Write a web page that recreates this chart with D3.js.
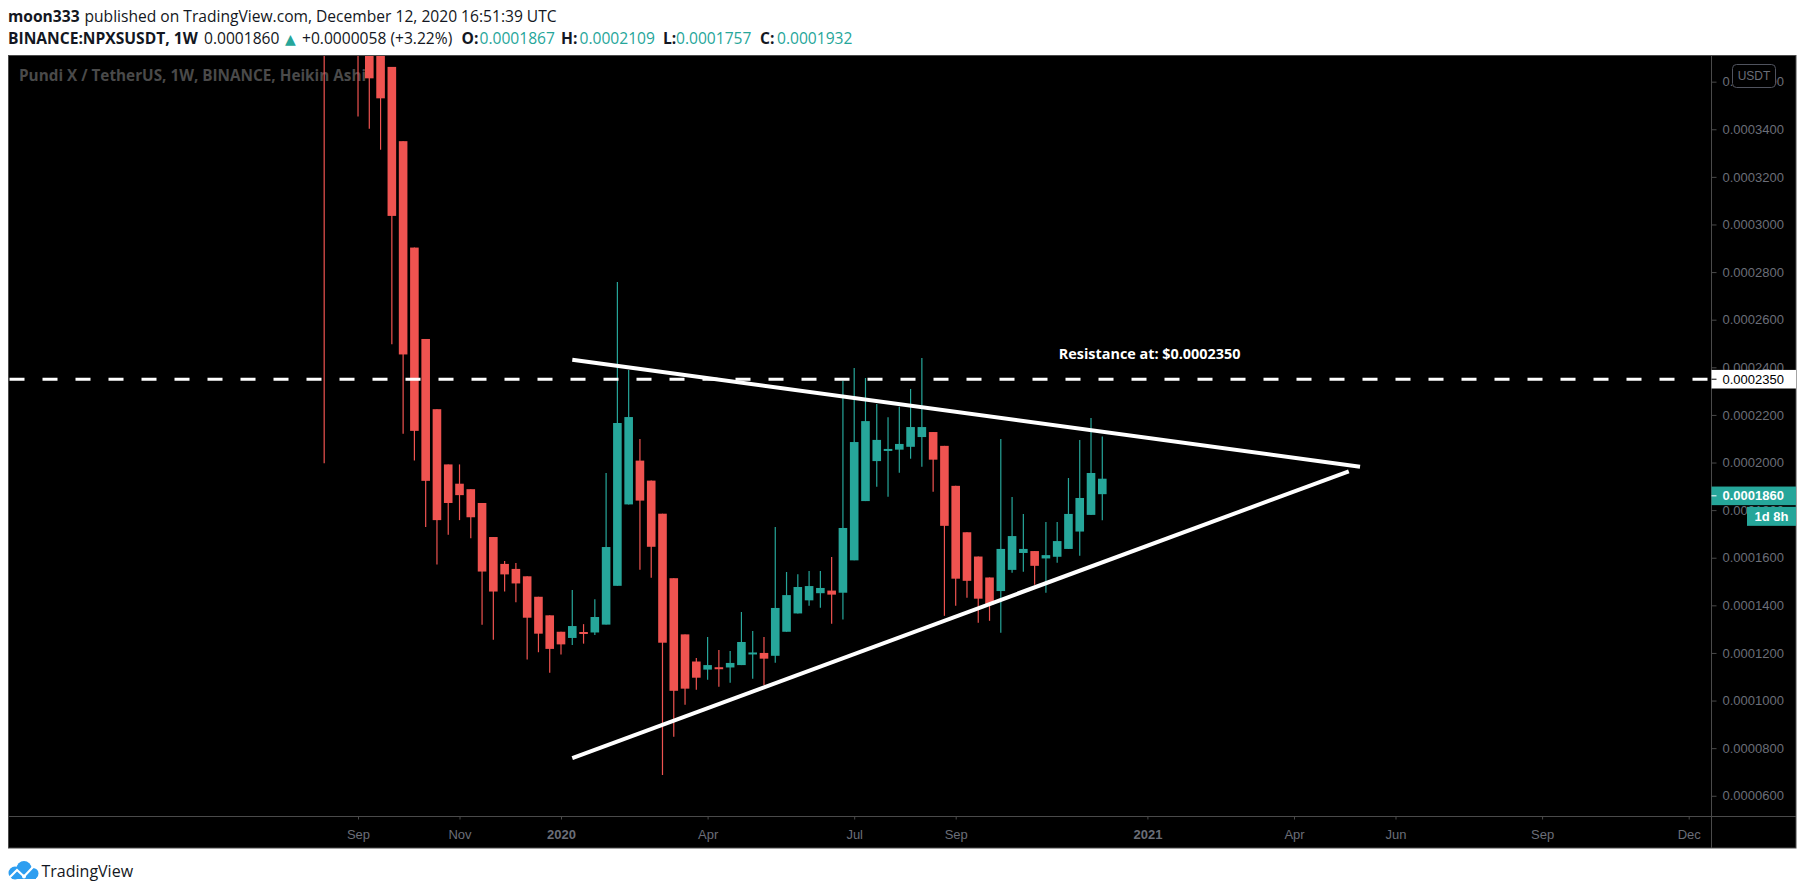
<!DOCTYPE html>
<html>
<head>
<meta charset="utf-8">
<script src="https://cdn.jsdelivr.net/npm/d3@7"></script>
<style>
  html, body { margin: 0; padding: 0; background: #fff; }
  svg { display: block; }
</style>
</head>
<body>
<svg id="chart" width="1805" height="895"></svg>
<script>
/* NPXS/USDT weekly Heikin Ashi candles with a symmetrical triangle. */

// weekly bars (bar start dates)
var weeks = [
  "2019-08-12","2019-08-19","2019-08-26","2019-09-02","2019-09-09","2019-09-16","2019-09-23",
  "2019-09-30","2019-10-07","2019-10-14","2019-10-21","2019-10-28","2019-11-04","2019-11-11",
  "2019-11-18","2019-11-25","2019-12-02","2019-12-09","2019-12-16","2019-12-23","2019-12-30",
  "2020-01-06","2020-01-13","2020-01-20","2020-01-27","2020-02-03","2020-02-10","2020-02-17",
  "2020-02-24","2020-03-02","2020-03-09","2020-03-16","2020-03-23","2020-03-30","2020-04-06",
  "2020-04-13","2020-04-20","2020-04-27","2020-05-04","2020-05-11","2020-05-18","2020-05-25",
  "2020-06-01","2020-06-08","2020-06-15","2020-06-22","2020-06-29","2020-07-06","2020-07-13",
  "2020-07-20","2020-07-27","2020-08-03","2020-08-10","2020-08-17","2020-08-24","2020-08-31",
  "2020-09-07","2020-09-14","2020-09-21","2020-09-28","2020-10-05","2020-10-12","2020-10-19",
  "2020-10-26","2020-11-02","2020-11-09","2020-11-16","2020-11-23","2020-11-30","2020-12-07"
];
var opens = [
  0.00052, 0.00047, 0.00044, 0.000415, 0.0003974, 0.0003794, 0.0003662,
  0.000335, 0.0002903, 0.0002519, 0.0002224, 0.0001992, 0.0001911, 0.0001888,
  0.000183, 0.0001687, 0.0001574, 0.0001553, 0.0001522, 0.0001436, 0.0001358,
  0.0001289, 0.0001263, 0.0001288, 0.0001286, 0.0001319, 0.0001482, 0.0001824,
  0.0002008, 0.0001924, 0.0001785, 0.0001514, 0.0001278, 0.0001164, 0.000113,
  0.000114, 0.0001139, 0.0001149, 0.0001198, 0.00012, 0.0001188, 0.0001289,
  0.0001366, 0.0001421, 0.0001451, 0.0001462, 0.0001453, 0.0001589, 0.0001838,
  0.0002006, 0.000205, 0.0002054, 0.0002066, 0.0002107, 0.0002128, 0.000207,
  0.0001902, 0.0001707, 0.0001605, 0.0001517, 0.000146, 0.0001549, 0.000162,
  0.0001628, 0.0001597, 0.0001604, 0.0001637, 0.000171, 0.000178, 0.0001867
];
var highs = [
  0.0006, 0.0005, 0.00046, 0.00043, 0.0003974, 0.0003794, 0.0003662,
  0.000335, 0.0002903, 0.0002519, 0.0002224, 0.0001992, 0.0001992, 0.0001888,
  0.000183, 0.0001687, 0.0001586, 0.0001578, 0.0001522, 0.0001436, 0.0001358,
  0.0001289, 0.0001464, 0.0001321, 0.0001426, 0.0001956, 0.0002758, 0.0002389,
  0.0002099, 0.0001924, 0.0001785, 0.0001514, 0.0001278, 0.0001179, 0.0001267,
  0.0001212, 0.0001208, 0.0001372, 0.0001292, 0.0001267, 0.0001729, 0.000154,
  0.0001531, 0.0001544, 0.0001544, 0.0001603, 0.0002344, 0.0002397, 0.0002355,
  0.0002246, 0.000219, 0.0002234, 0.0002309, 0.0002439, 0.0002128, 0.000207,
  0.0001902, 0.0001707, 0.0001605, 0.0001517, 0.0002099, 0.0001855, 0.0001784,
  0.0001628, 0.000175, 0.000175, 0.0001935, 0.0002095, 0.0002187, 0.0002109
];
var lows = [
  0.0001997, 0.00039, 0.000385, 0.0003454, 0.0003402, 0.0003314, 0.0002497,
  0.0002121, 0.0002008, 0.0001729, 0.0001572, 0.0001697, 0.0001758, 0.0001682,
  0.0001318, 0.0001255, 0.0001458, 0.0001413, 0.0001172, 0.0001203, 0.0001117,
  0.0001193, 0.0001233, 0.0001239, 0.0001275, 0.0001319, 0.0001482, 0.0001824,
  0.000155, 0.0001516, 0.0000687, 0.0000848, 0.0000982, 0.0001045, 0.0001087,
  0.0001058, 0.0001075, 0.0001149, 0.0001092, 0.0001065, 0.0001159, 0.0001289,
  0.0001366, 0.0001398, 0.000139, 0.0001323, 0.000134, 0.0001589, 0.0001838,
  0.0001898, 0.0001856, 0.0001957, 0.0002016, 0.0001982, 0.0001877, 0.0001356,
  0.0001398, 0.0001432, 0.0001327, 0.0001335, 0.0001285, 0.0001537, 0.0001541,
  0.0001487, 0.0001453, 0.0001579, 0.0001637, 0.0001608, 0.000178, 0.0001757
];
var closes = [
  0.00042, 0.00041, 0.00039, 0.00038, 0.0003614, 0.000353, 0.0003036,
  0.0002454, 0.0002133, 0.0001923, 0.0001758, 0.000183, 0.0001863, 0.000177,
  0.0001542, 0.0001458, 0.000153, 0.0001492, 0.0001348, 0.0001281, 0.0001217,
  0.0001236, 0.0001313, 0.0001284, 0.0001351, 0.0001645, 0.0002166, 0.0002191,
  0.000184, 0.0001646, 0.0001243, 0.0001041, 0.000105, 0.0001096, 0.0001149,
  0.0001138, 0.0001158, 0.0001246, 0.0001202, 0.0001176, 0.0001389, 0.0001443,
  0.0001477, 0.0001481, 0.0001473, 0.0001445, 0.0001725, 0.0002086, 0.0002174,
  0.0002095, 0.0002057, 0.0002078, 0.0002149, 0.0002149, 0.0002012, 0.0001734,
  0.0001512, 0.0001503, 0.0001428, 0.0001403, 0.0001637, 0.0001691, 0.0001637,
  0.0001566, 0.0001611, 0.000167, 0.0001784, 0.0001851, 0.0001956, 0.0001932
];

// drawings
var resistance = 0.000235;
var upperTrend = [["2020-01-13", 0.0002432], ["2021-05-16", 0.0001982]];
var lowerTrend = [["2020-01-13", 0.0000758], ["2021-05-09", 0.0001963]];
var resistanceNote = { date: "2020-11-10", value: 0.0002458, text: "Resistance at: $0.0002350" };

// axes
var yTicks = [0.00006, 0.00008, 0.0001, 0.00012, 0.00014, 0.00016, 0.00018,
              0.0002, 0.00022, 0.00024, 0.00026, 0.00028, 0.0003, 0.00032, 0.00034, 0.00036];
var xTickDates = ["2019-09-02","2019-11-04","2020-01-06","2020-04-06","2020-07-06","2020-09-07",
                  "2021-01-04","2021-04-05","2021-06-07","2021-09-06","2021-12-06"];
var xTickLabels = ["Sep","Nov","2020","Apr","Jul","Sep","2021","Apr","Jun","Sep","Dec"];

var lastPrice = 0.000186, countdown = "1d 8h";

// header strings: [text, bold, teal, x]
var titleParts = [
  ["moon333", true, false, 8],
  ["published on TradingView.com, December 12, 2020 16:51:39 UTC", false, false, 84.5]
];
var legendParts = [
  ["BINANCE:NPXSUSDT, 1W", true, false, 8],
  ["0.0001860", false, false, 204],
  ["▲", false, true, 285],
  ["+0.0000058 (+3.22%)", false, false, 302],
  ["O:", true, false, 461.5], ["0.0001867", false, true, 479.5],
  ["H:", true, false, 561], ["0.0002109", false, true, 579.5],
  ["L:", true, false, 663], ["0.0001757", false, true, 676],
  ["C:", true, false, 760], ["0.0001932", false, true, 777]
];

var UP = "#26a69a", DOWN = "#ef5350", AXIS_TXT = "#6b6e78", BORDER = "#4a4a4a";
var FONT = "'Open Sans', 'Liberation Sans', sans-serif";
var AX_FONT = "'Liberation Sans', Arial, sans-serif";

var L = 8.5, T = 55.5, R = 1796, AX = 1711, PB = 816, B = 848;

var parse = d3.utcParse("%Y-%m-%d");
var x = d3.scaleUtc().domain([parse("2020-01-06"), parse("2021-01-04")]).range([561, 1147.4]);
var y = d3.scaleLinear().domain([0.0000515, 0.0003712]).range([PB, 55]);

var svg = d3.select("#chart");
svg.append("rect").attr("width", 1805).attr("height", 895).attr("fill", "#fff");

// header
function headerLine(parts, baseY) {
  var t = svg.append("text").attr("y", baseY)
    .attr("font-family", FONT).attr("font-size", 15.6).attr("fill", "#131722");
  parts.forEach(function (p) {
    t.append("tspan").attr("x", p[3])
      .attr("font-weight", p[1] ? "bold" : "normal")
      .attr("fill", p[2] ? UP : null)
      .attr("font-family", p[0] === "▲" ? "'DejaVu Sans', sans-serif" : null)
      .attr("font-size", p[0] === "▲" ? 14 : null)
      .text(p[0]);
  });
}
headerLine(titleParts, 21.5);
headerLine(legendParts, 44);

// panel
svg.append("rect").attr("x", L).attr("y", T).attr("width", R - L).attr("height", B - T)
  .attr("fill", "#000").attr("stroke", BORDER).attr("stroke-width", 1);
svg.append("line").attr("x1", L).attr("x2", R).attr("y1", PB + 0.5).attr("y2", PB + 0.5)
  .attr("stroke", BORDER);
svg.append("line").attr("x1", AX + 0.5).attr("x2", AX + 0.5).attr("y1", T).attr("y2", B)
  .attr("stroke", BORDER);

svg.append("defs").append("clipPath").attr("id", "plot")
  .append("rect").attr("x", L + 0.5).attr("y", T + 0.5).attr("width", AX - L - 0.5).attr("height", PB - T - 0.5);

svg.append("text").attr("x", 19).attr("y", 76).attr("dy", "0.35em")
  .attr("font-family", FONT).attr("font-size", 15.3).attr("font-weight", "bold")
  .attr("fill", "#4a4a4a").text("Pundi X / TetherUS, 1W, BINANCE, Heikin Ashi");

var plot = svg.append("g").attr("clip-path", "url(#plot)");

// candles
var candles = weeks.map(function (w, i) {
  return { date: parse(w), o: opens[i], h: highs[i], l: lows[i], c: closes[i] };
});
var bodyW = 8.6;
var cg = plot.append("g").selectAll("g").data(candles).enter().append("g")
  .attr("fill", function (d) { return d.c >= d.o ? UP : DOWN; })
  .attr("stroke", function (d) { return d.c >= d.o ? UP : DOWN; });
cg.append("line")
  .attr("x1", function (d) { return x(d.date); }).attr("x2", function (d) { return x(d.date); })
  .attr("y1", function (d) { return y(d.h); }).attr("y2", function (d) { return y(d.l); })
  .attr("stroke-width", 1.2);
cg.append("rect")
  .attr("stroke", "none")
  .attr("x", function (d) { return x(d.date) - bodyW / 2; })
  .attr("width", bodyW)
  .attr("y", function (d) { return y(Math.max(d.o, d.c)); })
  .attr("height", function (d) { return Math.max(2, Math.abs(y(d.o) - y(d.c))); });

// resistance level
plot.append("line").attr("x1", L + 1).attr("x2", AX)
  .attr("y1", y(resistance)).attr("y2", y(resistance))
  .attr("stroke", "#fff").attr("stroke-width", 3).attr("stroke-dasharray", "15 18");

// triangle
var trend = d3.line()
  .x(function (d) { return x(parse(d[0])); })
  .y(function (d) { return y(d[1]); });
[upperTrend, lowerTrend].forEach(function (t) {
  plot.append("path").attr("d", trend(t)).attr("fill", "none")
    .attr("stroke", "#fff").attr("stroke-width", 4);
});

plot.append("text")
  .attr("x", x(parse(resistanceNote.date))).attr("y", y(resistanceNote.value)).attr("dy", "0.35em")
  .attr("font-family", FONT).attr("font-size", 14.4).attr("font-weight", "bold")
  .attr("fill", "#fff").text(resistanceNote.text);

// price axis
var yAxis = svg.append("g").attr("transform", "translate(" + (AX + 0.5) + ",0)")
  .call(d3.axisRight(y).tickValues(yTicks).tickSize(5).tickPadding(6)
    .tickFormat(function (d) { return d.toFixed(7); }));
yAxis.select(".domain").remove();
yAxis.selectAll("line").attr("stroke", BORDER);
yAxis.selectAll("text").attr("fill", AXIS_TXT).attr("font-family", AX_FONT).attr("font-size", 13);

// time axis
var xAxis = svg.append("g").attr("transform", "translate(0," + (PB + 0.5) + ")")
  .call(d3.axisBottom(x).tickValues(xTickDates.map(parse)).tickSize(3)
    .tickFormat(function (d, i) { return xTickLabels[i]; }));
xAxis.select(".domain").remove();
xAxis.selectAll("line").attr("stroke", BORDER);
xAxis.selectAll("text").attr("y", 18).attr("dy", "0.35em")
  .attr("fill", AXIS_TXT).attr("font-family", AX_FONT).attr("font-size", 13)
  .attr("font-weight", function (d, i) { return /^\d+$/.test(xTickLabels[i]) ? "bold" : "normal"; });

// axis price labels
function priceTag(v, fill, color, bold, text) {
  var g = svg.append("g");
  g.append("rect").attr("x", AX + 0.5).attr("y", y(v) - 9.3).attr("width", R - AX - 0.5).attr("height", 18.6)
    .attr("fill", fill);
  g.append("line").attr("x1", AX + 0.5).attr("x2", AX + 5.5).attr("y1", y(v)).attr("y2", y(v))
    .attr("stroke", color);
  g.append("text").attr("x", AX + 11.5).attr("y", y(v)).attr("dy", "0.35em")
    .attr("font-family", AX_FONT).attr("font-size", 13).attr("font-weight", bold ? "bold" : "normal")
    .attr("fill", color).text(text);
  return g;
}
priceTag(resistance, "#fff", "#000", false, resistance.toFixed(7));
priceTag(lastPrice, UP, "#fff", true, lastPrice.toFixed(7));
svg.append("rect").attr("x", 1747).attr("y", y(lastPrice) + 11).attr("width", R - 1747).attr("height", 19)
  .attr("fill", UP);
svg.append("text").attr("x", 1771.5).attr("y", y(lastPrice) + 20.5).attr("dy", "0.35em")
  .attr("text-anchor", "middle").attr("font-family", AX_FONT).attr("font-size", 13)
  .attr("font-weight", "bold").attr("fill", "#fff").text(countdown);

// currency badge
svg.append("rect").attr("x", 1732.5).attr("y", 64.5).attr("width", 43).attr("height", 23).attr("rx", 4)
  .attr("fill", "#000").attr("stroke", "#50535e");
svg.append("text").attr("x", 1754).attr("y", 76).attr("dy", "0.35em").attr("text-anchor", "middle")
  .attr("font-family", AX_FONT).attr("font-size", 12).attr("fill", AXIS_TXT).text("USDT");

// footer logo
var logo = svg.append("g");
logo.append("circle").attr("cx", 15).attr("cy", 873).attr("r", 6.5).attr("fill", "#2e9ef0");
logo.append("circle").attr("cx", 24).attr("cy", 868.5).attr("r", 7.5).attr("fill", "#2e9ef0");
logo.append("circle").attr("cx", 33).attr("cy", 873.5).attr("r", 5.5).attr("fill", "#2e9ef0");
logo.append("rect").attr("x", 12).attr("y", 873).attr("width", 24).attr("height", 6).attr("fill", "#2e9ef0");
logo.append("polyline").attr("points", "8,879 17,870 24,876.5 33,867")
  .attr("fill", "none").attr("stroke", "#fff").attr("stroke-width", 2.2);
logo.append("circle").attr("cx", 24).attr("cy", 876.5).attr("r", 2).attr("fill", "#fff");
svg.append("text").attr("x", 41.5).attr("y", 871).attr("dy", "0.35em")
  .attr("font-family", FONT).attr("font-size", 16).attr("fill", "#131722").text("TradingView");
</script>
</body>
</html>
